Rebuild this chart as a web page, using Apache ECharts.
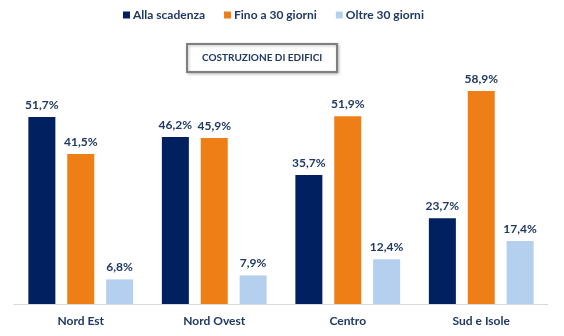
<!DOCTYPE html>
<html><head><meta charset="utf-8">
<script src="https://cdn.jsdelivr.net/npm/echarts@6/dist/echarts.min.js"></script>
<style>html,body{margin:0;padding:0;background:#fff}#c{width:564px;height:336px}</style>
</head><body><div id="c"></div>
<script>
const categories = ['Nord Est', 'Nord Ovest', 'Centro', 'Sud e Isole'];
const seriesNames = ['Alla scadenza', 'Fino a 30 giorni', 'Oltre 30 giorni'];
const allaScadenza = [51.7, 46.2, 35.7, 23.7];
const fino30 = [41.5, 45.9, 51.9, 58.9];
const oltre30 = [6.8, 7.9, 12.4, 17.4];
const colors = ['#002060', '#EE7F16', '#B4D0EE'];
const navy = '#1F3864';
const font = 'Lato';
const fmt = p => p.value.toFixed(1).replace('.', ',') + '%';
const chart = echarts.init(document.getElementById('c'), null, {renderer: 'canvas'});
const mk = (name, data, color) => ({
  name, type: 'bar', data, barWidth: 27, barGap: '44%',
  itemStyle: {color},
  label: {show: true, position: 'top', distance: 6, formatter: fmt,
    color: navy, fontFamily: font, fontWeight: 'bold', fontSize: 12}
});
chart.setOption({
  animation: false,
  title: {
    text: 'COSTRUZIONE DI EDIFICI', left: 187, top: 44,
    padding: [9, 15, 9, 15], borderColor: '#7F7F7F', borderWidth: 2,
    shadowColor: 'rgba(0,0,0,0.25)', shadowBlur: 3, shadowOffsetX: 1, shadowOffsetY: 1,
    backgroundColor: '#fff',
    textStyle: {color: navy, fontFamily: font, fontWeight: 'bold', fontSize: 10}
  },
  legend: {
    top: 4, left: 118, icon: 'rect', itemWidth: 7, itemHeight: 7, itemGap: 19,
    data: seriesNames,
    textStyle: {color: navy, fontFamily: font, fontWeight: 'bold', fontSize: 12, padding: [0, 0, 0, -2]}
  },
  grid: {left: 14, right: 16, top: 87, bottom: 32},
  xAxis: {
    type: 'category', data: categories,
    axisLine: {lineStyle: {color: '#D9D9D9', width: 1}},
    axisTick: {show: false},
    axisLabel: {color: navy, fontFamily: font, fontWeight: 'bold', fontSize: 12, margin: 11}
  },
  yAxis: {type: 'value', min: 0, max: 60, show: false, splitLine: {show: false}},
  series: [
    mk(seriesNames[0], allaScadenza, colors[0]),
    mk(seriesNames[1], fino30, colors[1]),
    mk(seriesNames[2], oltre30, colors[2])
  ]
});
</script></body></html>
